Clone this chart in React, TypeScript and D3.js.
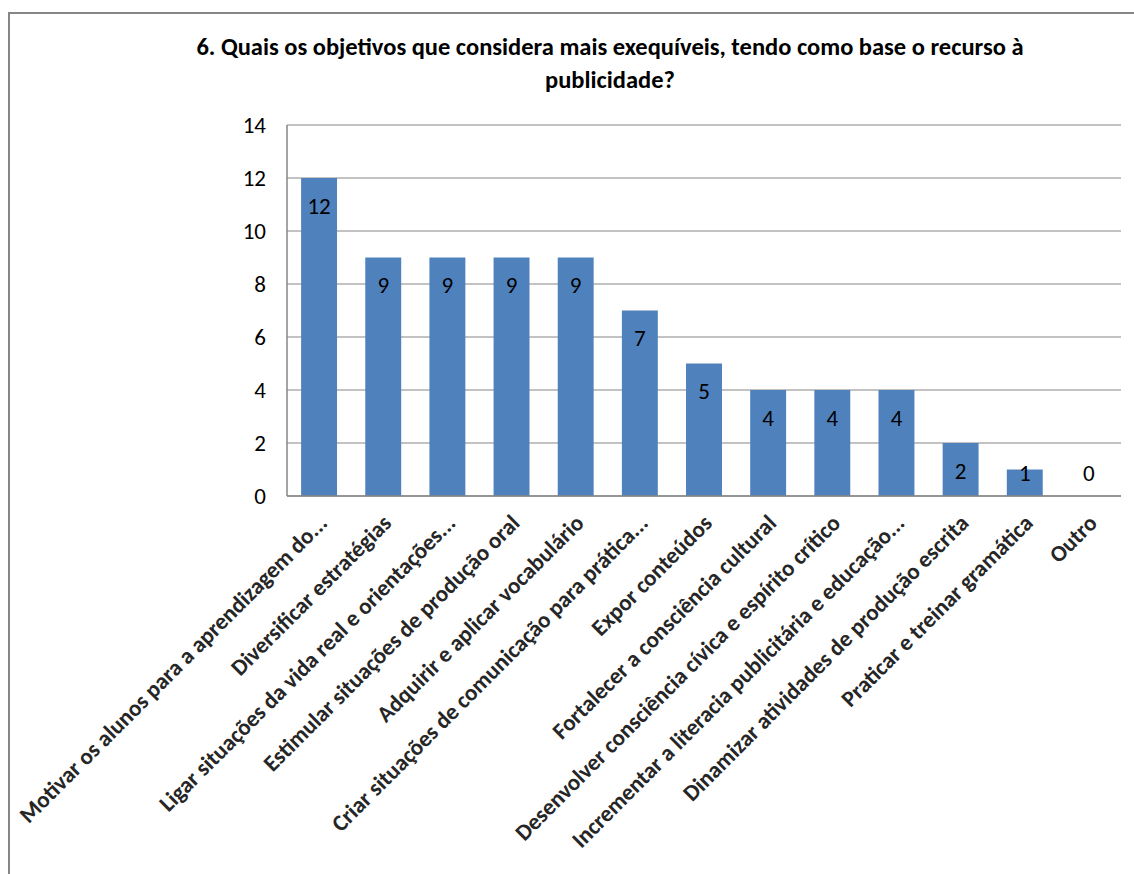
import React from "react";
import * as d3 from "d3";

const categories = [
  "Motivar os alunos para a aprendizagem do...",
  "Diversificar estratégias",
  "Ligar situações da vida real e orientações...",
  "Estimular situações de produção oral",
  "Adquirir e aplicar vocabulário",
  "Criar situações de comunicação para prática...",
  "Expor conteúdos",
  "Fortalecer a consciência cultural",
  "Desenvolver consciência cívica e espírito crítico",
  "Incrementar a literacia publicitária e educação...",
  "Dinamizar atividades de produção escrita",
  "Praticar e treinar gramática",
  "Outro",
];
const values = [12, 9, 9, 9, 9, 7, 5, 4, 4, 4, 2, 1, 0];
const yTicks = [0, 2, 4, 6, 8, 10, 12, 14];
const titleLines = [
  "6. Quais os objetivos que considera mais exequíveis, tendo como base o recurso à",
  "publicidade?",
];

const W = 1134;
const H = 874;
const plot = { left: 287, right: 1121, top: 125, bottom: 496 };
const FONT = "Calibri, Carlito, Lato, 'Open Sans', sans-serif";

export default function App() {
  const x = d3
    .scaleBand<number>()
    .domain(d3.range(categories.length))
    .range([plot.left, plot.right])
    .paddingInner(0.44)
    .paddingOuter(0.22);
  const y = d3.scaleLinear().domain([0, 14]).range([plot.bottom, plot.top]);

  return (
    <svg
      width={W}
      height={H}
      style={{ position: "absolute", left: 0, top: 0, background: "#fff" }}
      fontFamily={FONT}
    >
      <rect x={0} y={0} width={W} height={H} fill="#fff" />
      <rect x={9} y={13} width={1300} height={1000} fill="#fff" stroke="#868686" strokeWidth={2} />
      {titleLines.map((t, i) => (
        <text
          key={i}
          x={610}
          y={55 + i * 33}
          textAnchor="middle"
          fontWeight="bold"
          fontSize={24.5}
          fill="#000"
        >
          {t}
        </text>
      ))}
      {/* gridlines */}
      {yTicks.map((t) => (
        <line
          key={t}
          x1={plot.left}
          x2={plot.right}
          y1={y(t)}
          y2={y(t)}
          stroke="#868686"
          strokeWidth={1}
        />
      ))}
      {/* y axis */}
      <line x1={plot.left} x2={plot.left} y1={plot.top} y2={plot.bottom} stroke="#868686" strokeWidth={1.5} />
      {yTicks.map((t) => (
        <text key={"t" + t} x={266} y={y(t)} dy="0.34em" textAnchor="end" fontSize={23} fill="#000">
          {t}
        </text>
      ))}
      {/* bars */}
      {values.map((v, i) => (
        <rect
          key={i}
          x={x(i)}
          y={y(v)}
          width={x.bandwidth()}
          height={y(0) - y(v)}
          fill="#4F81BD"
        />
      ))}
      <line x1={plot.left} x2={plot.right} y1={plot.bottom} y2={plot.bottom} stroke="#868686" strokeWidth={1.5} />
      {/* data labels */}
      {values.map((v, i) => (
        <text
          key={"l" + i}
          x={(x(i) as number) + x.bandwidth() / 2}
          y={Math.min(y(v) + 28, y(0) - 23)}
          dy="0.34em"
          textAnchor="middle"
          fontSize={23}
          fill="#000"
        >
          {v}
        </text>
      ))}
      {/* category labels */}
      {categories.map((c, i) => {
        const cx = (x(i) as number) + x.bandwidth() / 2 + 9.5;
        const cy = plot.bottom + 28.5;
        return (
          <text
            key={"c" + i}
            transform={`translate(${cx},${cy}) rotate(-45)`}
            textAnchor="end"
            fontSize={23}
            fontWeight="bold"
            fill="#262626"
          >
            {c}
          </text>
        );
      })}
    </svg>
  );
}
